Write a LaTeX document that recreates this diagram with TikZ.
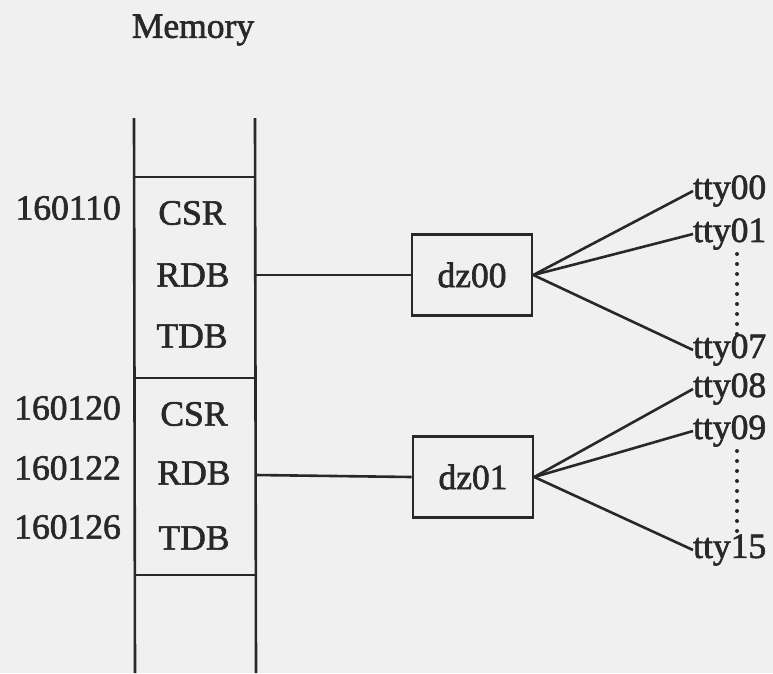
\documentclass[tikz,border=0pt]{standalone}
\usepackage{fontspec}
\setmainfont[FakeBold=1.8]{Liberation Serif}
\definecolor{bg}{RGB}{240,240,240}
\definecolor{ink}{RGB}{40,40,40}
\begin{document}
\begin{tikzpicture}[x=1pt,y=-1pt,
  every node/.style={text=ink,font=\fontsize{35.5}{40}\selectfont,inner sep=0pt},
  ln/.style={draw=ink,line width=2.6pt},
  devbox/.style={ln,minimum width=120pt,minimum height=81pt},
  tty/.style={anchor=west},
  dotl/.style={draw=ink,line width=4pt,dash pattern=on 0pt off 10pt,line cap=round}]
\useasboundingbox[fill=bg] (0,0) rectangle (773,673);
% memory column
\node (mem) at (193,30) {Memory};
\coordinate (lt) at (134,118); \coordinate (lb) at (135,673);
\coordinate (rt) at (255,118); \coordinate (rb) at (256,673);
\draw[ln] (lt) -- (lb);
\draw[ln] (rt) -- (rb);
\coordinate (h1l) at (134,177); \coordinate (h1r) at (255,177);
\coordinate (h2l) at (134,378); \coordinate (h2r) at (255,378);
\coordinate (h3l) at (135,575); \coordinate (h3r) at (256,575);
\draw[ln] (h1l) -- (h1r);
\draw[ln] (h2l) -- (h2r);
\draw[ln] (h3l) -- (h3r);
% registers
\node (csr0) at (192,213) {CSR};
\node (rdb0) at (193,275) {RDB};
\node (tdb0) at (192,336) {TDB};
\node (csr1) at (194,414) {CSR};
\node (rdb1) at (194,473) {RDB};
\node (tdb1) at (194,538) {TDB};
% addresses
\node[anchor=east] (a0) at (121,208) {160110};
\node[anchor=east] (a1) at (121,408) {160120};
\node[anchor=east] (a2) at (121,468) {160122};
\node[anchor=east] (a3) at (121,527) {160126};
% controllers
\node[devbox] (dz00) at (472,275) {dz00};
\node[devbox] (dz01) at (473,477) {dz01};
\coordinate (m0) at (255,275);
\coordinate (m1) at (256,475);
\draw[ln] (m0) -- (dz00.west);
\draw[ln] (m1) -- (dz01.west);
% terminals
\node[tty] (t00) at (693,191) {tty00};
\node[tty] (t01) at (693,234) {tty01};
\node[tty] (t07) at (693,350) {tty07};
\node[tty] (t08) at (693,389) {tty08};
\node[tty] (t09) at (693,431) {tty09};
\node[tty] (t15) at (693,550) {tty15};
\draw[ln] (dz00.east) -- (t00.west);
\draw[ln] (dz00.east) -- (t01.west);
\draw[ln] (dz00.east) -- (t07.west);
\draw[ln] (dz01.east) -- (t08.west);
\draw[ln] (dz01.east) -- (t09.west);
\draw[ln] (dz01.east) -- (t15.west);
\coordinate (d0a) at (737,254); \coordinate (d0b) at (737,336);
\coordinate (d1a) at (737,451); \coordinate (d1b) at (737,533);
\draw[dotl] (d0a) -- (d0b);
\draw[dotl] (d1a) -- (d1b);
\end{tikzpicture}
\end{document}
